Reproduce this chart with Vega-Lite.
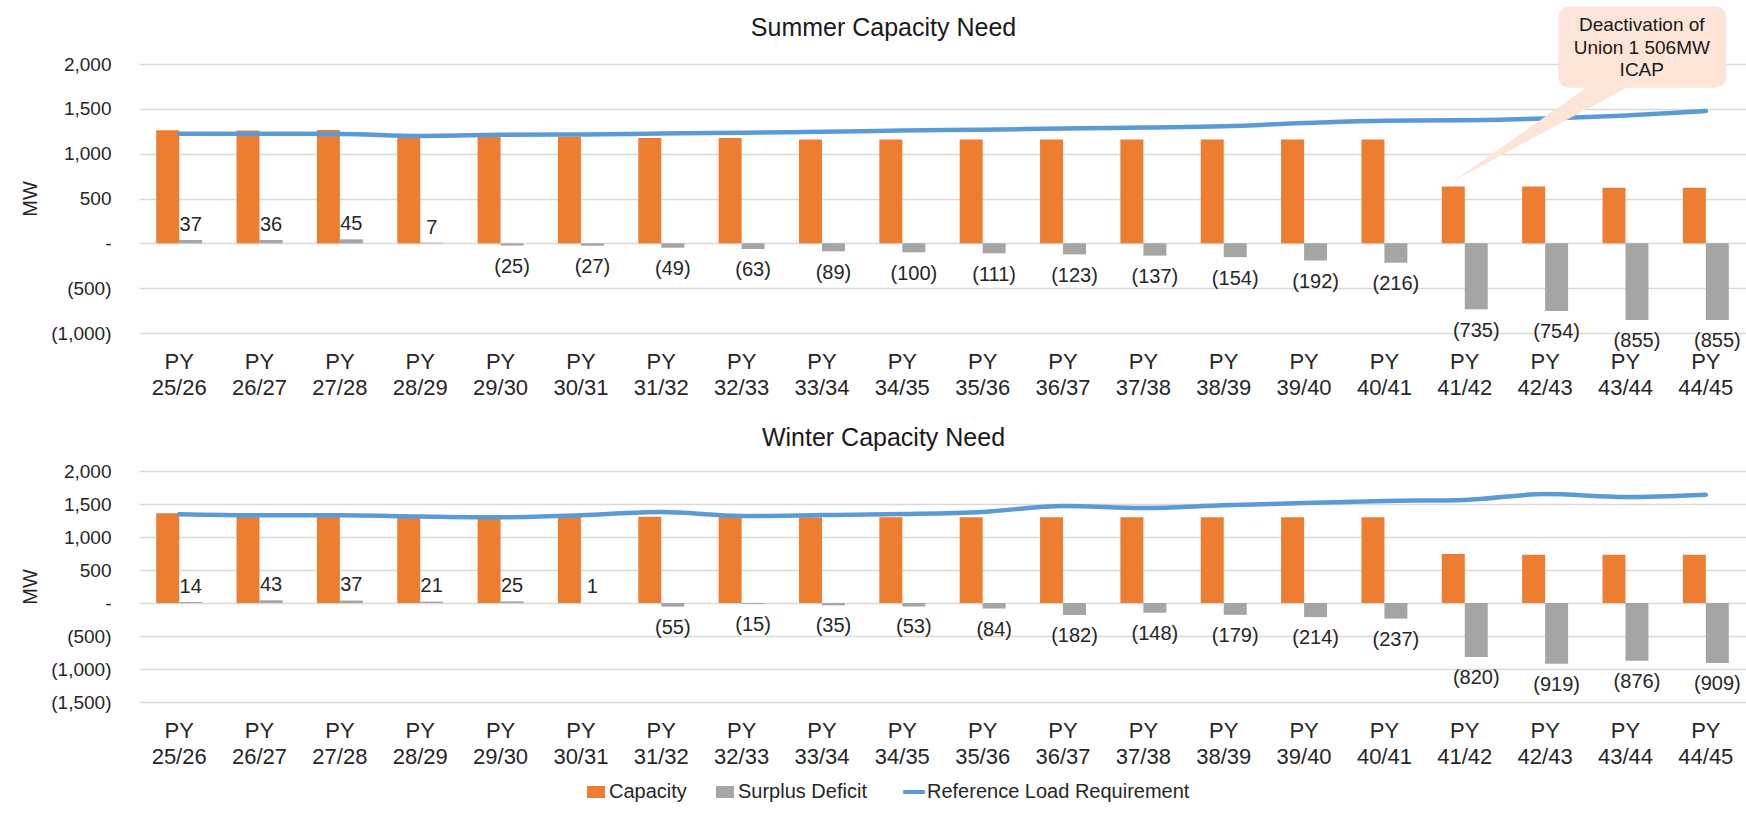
{
  "$schema": "https://vega.github.io/schema/vega-lite/v6.json",
  "background": "white",
  "padding": {"left": 20, "top": 6, "right": 0, "bottom": 0},
  "spacing": 27,
  "datasets": {
    "summer": [
      {"year": "PY 25/26", "Capacity": 1260, "Surplus Deficit": 37, "load": 1223},
      {"year": "PY 26/27", "Capacity": 1258, "Surplus Deficit": 36, "load": 1222},
      {"year": "PY 27/28", "Capacity": 1265, "Surplus Deficit": 45, "load": 1220},
      {"year": "PY 28/29", "Capacity": 1205, "Surplus Deficit": 7, "load": 1198},
      {"year": "PY 29/30", "Capacity": 1190, "Surplus Deficit": -25, "load": 1210},
      {"year": "PY 30/31", "Capacity": 1190, "Surplus Deficit": -27, "load": 1214},
      {"year": "PY 31/32", "Capacity": 1175, "Surplus Deficit": -49, "load": 1224},
      {"year": "PY 32/33", "Capacity": 1175, "Surplus Deficit": -63, "load": 1234},
      {"year": "PY 33/34", "Capacity": 1157, "Surplus Deficit": -89, "load": 1245},
      {"year": "PY 34/35", "Capacity": 1157, "Surplus Deficit": -100, "load": 1257},
      {"year": "PY 35/36", "Capacity": 1157, "Surplus Deficit": -111, "load": 1268},
      {"year": "PY 36/37", "Capacity": 1157, "Surplus Deficit": -123, "load": 1280},
      {"year": "PY 37/38", "Capacity": 1157, "Surplus Deficit": -137, "load": 1292},
      {"year": "PY 38/39", "Capacity": 1157, "Surplus Deficit": -154, "load": 1305},
      {"year": "PY 39/40", "Capacity": 1157, "Surplus Deficit": -192, "load": 1342},
      {"year": "PY 40/41", "Capacity": 1157, "Surplus Deficit": -216, "load": 1368},
      {"year": "PY 41/42", "Capacity": 634, "Surplus Deficit": -735, "load": 1372},
      {"year": "PY 42/43", "Capacity": 634, "Surplus Deficit": -754, "load": 1392},
      {"year": "PY 43/44", "Capacity": 620, "Surplus Deficit": -855, "load": 1425},
      {"year": "PY 44/45", "Capacity": 620, "Surplus Deficit": -855, "load": 1475}
    ],
    "winter": [
      {"year": "PY 25/26", "Capacity": 1358, "Surplus Deficit": 14, "load": 1345},
      {"year": "PY 26/27", "Capacity": 1335, "Surplus Deficit": 43, "load": 1330},
      {"year": "PY 27/28", "Capacity": 1335, "Surplus Deficit": 37, "load": 1330},
      {"year": "PY 28/29", "Capacity": 1320, "Surplus Deficit": 21, "load": 1312},
      {"year": "PY 29/30", "Capacity": 1315, "Surplus Deficit": 25, "load": 1300},
      {"year": "PY 30/31", "Capacity": 1320, "Surplus Deficit": 1, "load": 1330},
      {"year": "PY 31/32", "Capacity": 1305, "Surplus Deficit": -55, "load": 1378},
      {"year": "PY 32/33", "Capacity": 1305, "Surplus Deficit": -15, "load": 1318},
      {"year": "PY 33/34", "Capacity": 1300, "Surplus Deficit": -35, "load": 1332},
      {"year": "PY 34/35", "Capacity": 1300, "Surplus Deficit": -53, "load": 1348},
      {"year": "PY 35/36", "Capacity": 1300, "Surplus Deficit": -84, "load": 1380},
      {"year": "PY 36/37", "Capacity": 1300, "Surplus Deficit": -182, "load": 1470},
      {"year": "PY 37/38", "Capacity": 1300, "Surplus Deficit": -148, "load": 1440},
      {"year": "PY 38/39", "Capacity": 1300, "Surplus Deficit": -179, "load": 1482},
      {"year": "PY 39/40", "Capacity": 1300, "Surplus Deficit": -214, "load": 1515},
      {"year": "PY 40/41", "Capacity": 1300, "Surplus Deficit": -237, "load": 1545},
      {"year": "PY 41/42", "Capacity": 742, "Surplus Deficit": -820, "load": 1562},
      {"year": "PY 42/43", "Capacity": 730, "Surplus Deficit": -919, "load": 1650},
      {"year": "PY 43/44", "Capacity": 730, "Surplus Deficit": -876, "load": 1605},
      {"year": "PY 44/45", "Capacity": 730, "Surplus Deficit": -909, "load": 1640}
    ]
  },
  "config": {
    "font": "Liberation Sans",
    "view": {"stroke": null},
    "axis": {
      "domain": false,
      "ticks": false,
      "labelFont": "Liberation Sans",
      "titleFont": "Liberation Sans",
      "labelColor": "#262626",
      "titleColor": "#262626",
      "titleFontWeight": "normal"
    },
    "axisY": {
      "grid": true,
      "gridColor": "#D9D9D9",
      "gridWidth": 1.3,
      "labelFontSize": 19,
      "labelPadding": 28,
      "labelOverlap": false,
      "tickCount": 12,
      "titleFontSize": 20,
      "titlePadding": 10
    },
    "axisX": {
      "grid": false,
      "labelFontSize": 22,
      "labelPadding": 18,
      "labelLineHeight": 26.7,
      "labelAngle": 0,
      "labelOverlap": false
    },
    "title": {
      "font": "Liberation Sans",
      "fontSize": 25,
      "fontWeight": "normal",
      "color": "#1a1a1a",
      "anchor": "middle",
      "frame": "group",
      "dx": -59
    },
    "text": {"font": "Liberation Sans", "fontSize": 20, "color": "#262626"}
  },
  "resolve": {"scale": {"color": "shared"}, "legend": {"color": "shared"}},
  "vconcat": [
    {
      "width": 1607,
      "height": 269,
      "title": {"text": "Summer Capacity Need", "dy": 38.6},
      "data": {"name": "summer"},
      "layer": [
        {
          "transform": [{"fold": ["Capacity", "Surplus Deficit"], "as": ["series", "mw"]}],
          "mark": {"type": "bar"},
          "encoding": {
            "x": {
              "field": "year", "type": "nominal", "sort": null,
              "scale": {"paddingInner": 0.428, "paddingOuter": 0.214},
              "axis": {"title": null, "labelExpr": "split(datum.value, ' ')"}
            },
            "xOffset": {"field": "series", "type": "nominal", "scale": {"domain": ["Capacity", "Surplus Deficit"], "paddingInner": 0, "paddingOuter": 0}},
            "y": {
              "field": "mw", "type": "quantitative", "title": "MW",
              "scale": {"domain": [-1000, 2000], "nice": false},
              "axis": {
                "values": [-1000, -500, 0, 500, 1000, 1500, 2000],
                "tickCount": 12,
                "format": "(,.0f",
                "labelExpr": "datum.value === 0 ? '-' : datum.label",
                "encode": {"labels": {"update": {"dx": {"signal": "datum.value < 0 ? 6.3 : 0"}}}}
              }
            },
            "color": {
              "field": "series", "type": "nominal",
              "scale": {"domain": ["Capacity", "Surplus Deficit", "Reference Load Requirement"], "range": ["#ED7D31", "#A5A5A5", "#5B9BD5"]},
              "legend": {
                "orient": "none",
                "legendX": 447,
                "legendY": 718,
                "direction": "horizontal",
                "title": null,
                "labelFont": "Liberation Sans",
                "labelFontSize": 20,
                "labelColor": "#262626",
                "labelLimit": 500,
                "labelOffset": 3,
                "columnPadding": 28,
                "symbolSize": 324,
                "encode": {
                  "symbols": {
                    "update": {
                      "shape": {"signal": "datum.value === 'Reference Load Requirement' ? 'M-1.2,0H1.2' : 'M-1,-0.667H1V0.667H-1Z'"},
                      "fill": {"signal": "datum.value === 'Reference Load Requirement' ? 'transparent' : scale('color', datum.value)"},
                      "stroke": {"signal": "scale('color', datum.value)"},
                      "strokeWidth": {"signal": "datum.value === 'Reference Load Requirement' ? 4 : 0"},
                      "strokeCap": {"value": "butt"},
                      "opacity": {"value": 1}
                    }
                  }
                }
              }
            }
          }
        },
        {
          "mark": {"type": "line", "strokeWidth": 4.5, "interpolate": "monotone", "strokeCap": "round"},
          "encoding": {
            "x": {"field": "year", "type": "nominal", "sort": null},
            "y": {"field": "load", "type": "quantitative", "title": "MW"},
            "color": {"datum": "Reference Load Requirement", "type": "nominal"}
          }
        },
        {
          "transform": [{"fold": ["Surplus Deficit"], "as": ["series", "mw"]}, {"filter": "datum.mw >= 0"}],
          "mark": {"type": "text", "baseline": "alphabetic", "dy": -9},
          "encoding": {
            "x": {"field": "year", "type": "nominal", "sort": null},
            "xOffset": {"field": "series", "type": "nominal"},
            "y": {"field": "mw", "type": "quantitative", "title": "MW"},
            "text": {"field": "mw", "type": "quantitative", "format": "(,.0f"}
          }
        },
        {
          "transform": [{"fold": ["Surplus Deficit"], "as": ["series", "mw"]}, {"filter": "datum.mw < 0"}],
          "mark": {"type": "text", "baseline": "alphabetic", "dy": 27.5},
          "encoding": {
            "x": {"field": "year", "type": "nominal", "sort": null},
            "xOffset": {"field": "series", "type": "nominal"},
            "y": {"field": "mw", "type": "quantitative", "title": "MW"},
            "text": {"field": "mw", "type": "quantitative", "format": "(,.0f"}
          }
        },
        {
          "transform": [{"filter": "datum.year === 'PY 41/42'"}],
          "mark": {
            "type": "point",
            "filled": true,
            "opacity": 1,
            "fill": "#FCE4D6",
            "strokeWidth": 0,
            "size": 40000,
            "shape": "M-0.103,-0.06L1.214,-0.987H1.057Q0.937,-0.987 0.937,-1.107V-1.68Q0.937,-1.8 1.057,-1.8H2.494Q2.614,-1.8 2.614,-1.68V-1.107Q2.614,-0.987 2.494,-0.987H1.614Z"
          },
          "encoding": {
            "x": {"field": "year", "type": "nominal", "sort": null},
            "y": {"field": "Capacity", "type": "quantitative", "title": "MW"}
          }
        },
        {
          "transform": [{"filter": "datum.year === 'PY 41/42'"}],
          "mark": {
            "type": "text",
            "text": ["Deactivation of", "Union 1 506MW", "ICAP"],
            "align": "center",
            "baseline": "middle",
            "dx": 177,
            "dy": -161,
            "fontSize": 19,
            "lineHeight": 22.3,
            "color": "#1a1a1a"
          },
          "encoding": {
            "x": {"field": "year", "type": "nominal", "sort": null},
            "y": {"field": "Capacity", "type": "quantitative", "title": "MW"}
          }
        }
      ]
    },
    {
      "width": 1607,
      "height": 231,
      "title": {"text": "Winter Capacity Need", "offset": 11},
      "data": {"name": "winter"},
      "layer": [
        {
          "transform": [{"fold": ["Capacity", "Surplus Deficit"], "as": ["series", "mw"]}],
          "mark": {"type": "bar"},
          "encoding": {
            "x": {
              "field": "year", "type": "nominal", "sort": null,
              "scale": {"paddingInner": 0.428, "paddingOuter": 0.214},
              "axis": {"title": null, "labelExpr": "split(datum.value, ' ')"}
            },
            "xOffset": {"field": "series", "type": "nominal", "scale": {"domain": ["Capacity", "Surplus Deficit"], "paddingInner": 0, "paddingOuter": 0}},
            "y": {
              "field": "mw", "type": "quantitative", "title": "MW",
              "scale": {"domain": [-1500, 2000], "nice": false},
              "axis": {
                "values": [-1500, -1000, -500, 0, 500, 1000, 1500, 2000],
                "tickCount": 12,
                "format": "(,.0f",
                "labelExpr": "datum.value === 0 ? '-' : datum.label",
                "encode": {"labels": {"update": {"dx": {"signal": "datum.value < 0 ? 6.3 : 0"}}}}
              }
            },
            "color": {"field": "series", "type": "nominal"}
          }
        },
        {
          "mark": {"type": "line", "strokeWidth": 4.5, "interpolate": "monotone", "strokeCap": "round"},
          "encoding": {
            "x": {"field": "year", "type": "nominal", "sort": null},
            "y": {"field": "load", "type": "quantitative", "title": "MW"},
            "color": {"datum": "Reference Load Requirement", "type": "nominal"}
          }
        },
        {
          "transform": [{"fold": ["Surplus Deficit"], "as": ["series", "mw"]}, {"filter": "datum.mw >= 0"}],
          "mark": {"type": "text", "baseline": "alphabetic", "dy": -9.5},
          "encoding": {
            "x": {"field": "year", "type": "nominal", "sort": null},
            "xOffset": {"field": "series", "type": "nominal"},
            "y": {"field": "mw", "type": "quantitative", "title": "MW"},
            "text": {"field": "mw", "type": "quantitative", "format": "(,.0f"}
          }
        },
        {
          "transform": [{"fold": ["Surplus Deficit"], "as": ["series", "mw"]}, {"filter": "datum.mw < 0"}],
          "mark": {"type": "text", "baseline": "alphabetic", "dy": 27},
          "encoding": {
            "x": {"field": "year", "type": "nominal", "sort": null},
            "xOffset": {"field": "series", "type": "nominal"},
            "y": {"field": "mw", "type": "quantitative", "title": "MW"},
            "text": {"field": "mw", "type": "quantitative", "format": "(,.0f"}
          }
        }
      ]
    }
  ]
}
